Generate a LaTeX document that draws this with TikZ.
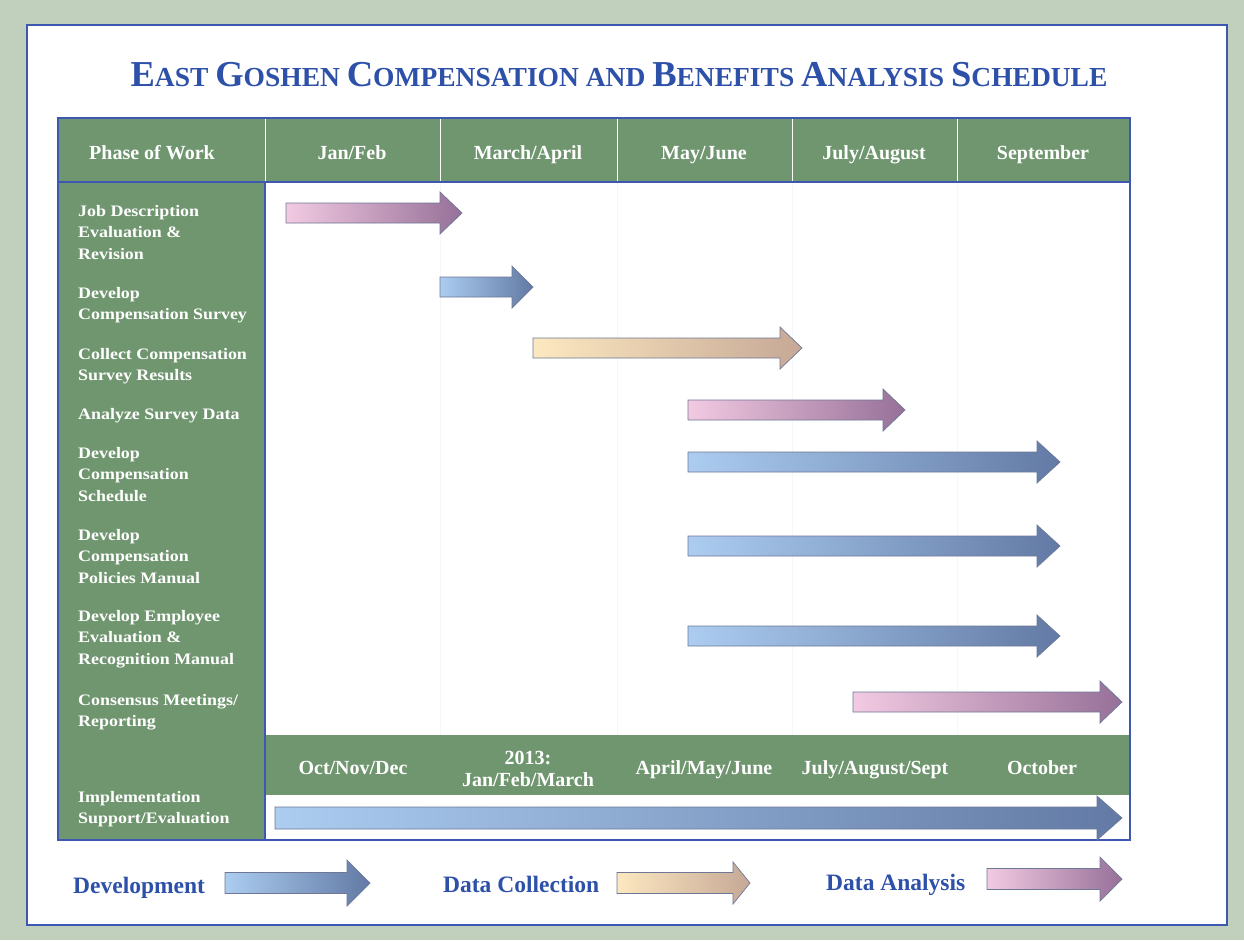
\documentclass[tikz,border=0pt]{standalone}
\usepackage{fontspec}
\setmainfont{Liberation Serif}
\newfontfamily\lblfont[FakeStretch=1.12]{Liberation Serif}
\definecolor{bgout}{RGB}{192,208,188}
\definecolor{panelblue}{RGB}{62,88,178}
\definecolor{titleblue}{RGB}{45,80,168}
\definecolor{hgreen}{RGB}{112,150,112}
\definecolor{faint}{RGB}{244,246,248}
\definecolor{arrline}{RGB}{110,120,150}
\definecolor{blueL}{RGB}{172,204,240}
\definecolor{blueR}{RGB}{98,122,165}
\definecolor{pinkL}{RGB}{242,202,226}
\definecolor{pinkR}{RGB}{150,112,152}
\definecolor{tanL}{RGB}{252,232,192}
\definecolor{tanR}{RGB}{198,168,150}
\newcommand{\SCw}[2]{{\fontsize{36.5}{38}\selectfont #1}{\fontsize{27.5}{29}\selectfont #2}}
% #1 start x, #2 head start x, #3 tip x, #4 y, #5 body half, #6 head half, #7 style
\newcommand{\garrow}[7]{%
  \shadedraw[#7] (#1,#4-#5) -- (#2,#4-#5) -- (#2,#4-#6) -- (#3,#4) -- (#2,#4+#6) -- (#2,#4+#5) -- (#1,#4+#5) -- cycle;}
\tikzset{
  devarrow/.style={left color=blueL, right color=blueR, draw=arrline, line width=0.7pt},
  anaarrow/.style={left color=pinkL, right color=pinkR, draw=arrline, line width=0.7pt},
  colarrow/.style={left color=tanL, right color=tanR, draw=arrline, line width=0.7pt},
  hdr/.style={text=white, font=\bfseries\fontsize{20}{22}\selectfont, inner sep=0pt, anchor=base},
  rowlbl/.style={text=white, font=\lblfont\bfseries\fontsize{16}{21.5}\selectfont, align=left, inner sep=0pt, anchor=north west},
  legend/.style={text=titleblue, font=\bfseries\fontsize{23.5}{26}\selectfont, inner sep=0pt, anchor=base west},
}
\begin{document}
\begin{tikzpicture}[x=1pt,y=-1pt]
\useasboundingbox (0,0) rectangle (1244,940);
\fill[bgout] (0,0) rectangle (1244,940);
\draw[panelblue, line width=2.5pt, fill=white] (27,25) rectangle (1227,925);

% title
\node[text=titleblue, font=\bfseries\fontsize{27.5}{29}\selectfont, inner sep=0pt, anchor=base] (title) at (619,86)
  {\SCw{E}{AST} \SCw{G}{OSHEN} \SCw{C}{OMPENSATION} \SCw{}{AND} \SCw{B}{ENEFITS} \SCw{A}{NALYSIS} \SCw{S}{CHEDULE}};

% table backgrounds
\fill[hgreen] (58,118) rectangle (1130,182);
\fill[hgreen] (58,182) rectangle (265,840);
\fill[hgreen] (265,735) rectangle (1130,795);
% faint column guides
\foreach \x in {440,617,792,957} \draw[faint, line width=1pt] (\x,182) -- (\x,735);
% header separators
\foreach \x in {265,440,617,792,957} \draw[white, line width=1pt] (\x,118) -- (\x,182);
% blue frame
\draw[panelblue, line width=1.6pt] (58,118) rectangle (1130,840);
\draw[panelblue, line width=1.6pt] (58,182) -- (1130,182);
\draw[panelblue, line width=1.6pt] (265,182) -- (265,840);

% header texts
\node[hdr] (hphase) at (152,159) {Phase of Work};
\node[hdr] (hjan) at (352,159) {Jan/Feb};
\node[hdr] (hmar) at (528,159) {March/April};
\node[hdr] (hmay) at (704,159) {May/June};
\node[hdr] (hjul) at (874,159) {July/August};
\node[hdr] (hsep) at (1043,159) {September};

% second band texts
\node[hdr] (boct) at (353,774) {Oct/Nov/Dec};
\node[hdr] (b2013) at (528,764) {2013:};
\node[hdr] (bjan) at (528,786) {Jan/Feb/March};
\node[hdr] (bapr) at (704,774) {April/May/June};
\node[hdr] (bjul) at (875,774) {July/August/Sept};
\node[hdr] (boctb) at (1042,774) {October};

% row labels
\node[rowlbl] (r1) at (78,205) {Job Description\\Evaluation \&\\Revision};
\node[rowlbl] (r2) at (78,287) {Develop\\Compensation Survey};
\node[rowlbl] (r3) at (78,348) {Collect Compensation\\Survey Results};
\node[rowlbl] (r4) at (78,408) {Analyze Survey Data};
\node[rowlbl] (r5) at (78,447) {Develop\\Compensation\\Schedule};
\node[rowlbl] (r6) at (78,529) {Develop\\Compensation\\Policies Manual};
\node[rowlbl] (r7) at (78,610) {Develop Employee\\Evaluation \&\\Recognition Manual};
\node[rowlbl] (r8) at (78,694) {Consensus Meetings/\\Reporting};
\node[rowlbl] (r9) at (78,791) {Implementation\\Support/Evaluation};

% schedule arrows
\garrow{286}{440}{462}{213}{10}{21}{anaarrow}
\garrow{440}{512}{533}{287}{10}{21}{devarrow}
\garrow{533}{780}{802}{348}{10}{21}{colarrow}
\garrow{688}{883}{905}{410}{10}{21}{anaarrow}
\garrow{688}{1037}{1060}{462}{10}{21}{devarrow}
\garrow{688}{1037}{1060}{546}{10}{21}{devarrow}
\garrow{688}{1037}{1060}{636}{10}{21}{devarrow}
\garrow{853}{1100}{1122}{702}{10}{21}{anaarrow}
\garrow{275}{1097}{1122}{818}{11}{22}{devarrow}

% legend
\node[legend] (ldev) at (73,893) {Development};
\garrow{225}{347}{370}{883}{10.5}{23}{devarrow}
\node[legend] (lcol) at (443,892) {Data Collection};
\garrow{617}{733}{750}{883}{10.5}{21}{colarrow}
\node[legend] (lana) at (826,890) {Data Analysis};
\garrow{987}{1100}{1122}{879}{10.5}{22}{anaarrow}
\end{tikzpicture}
\end{document}
